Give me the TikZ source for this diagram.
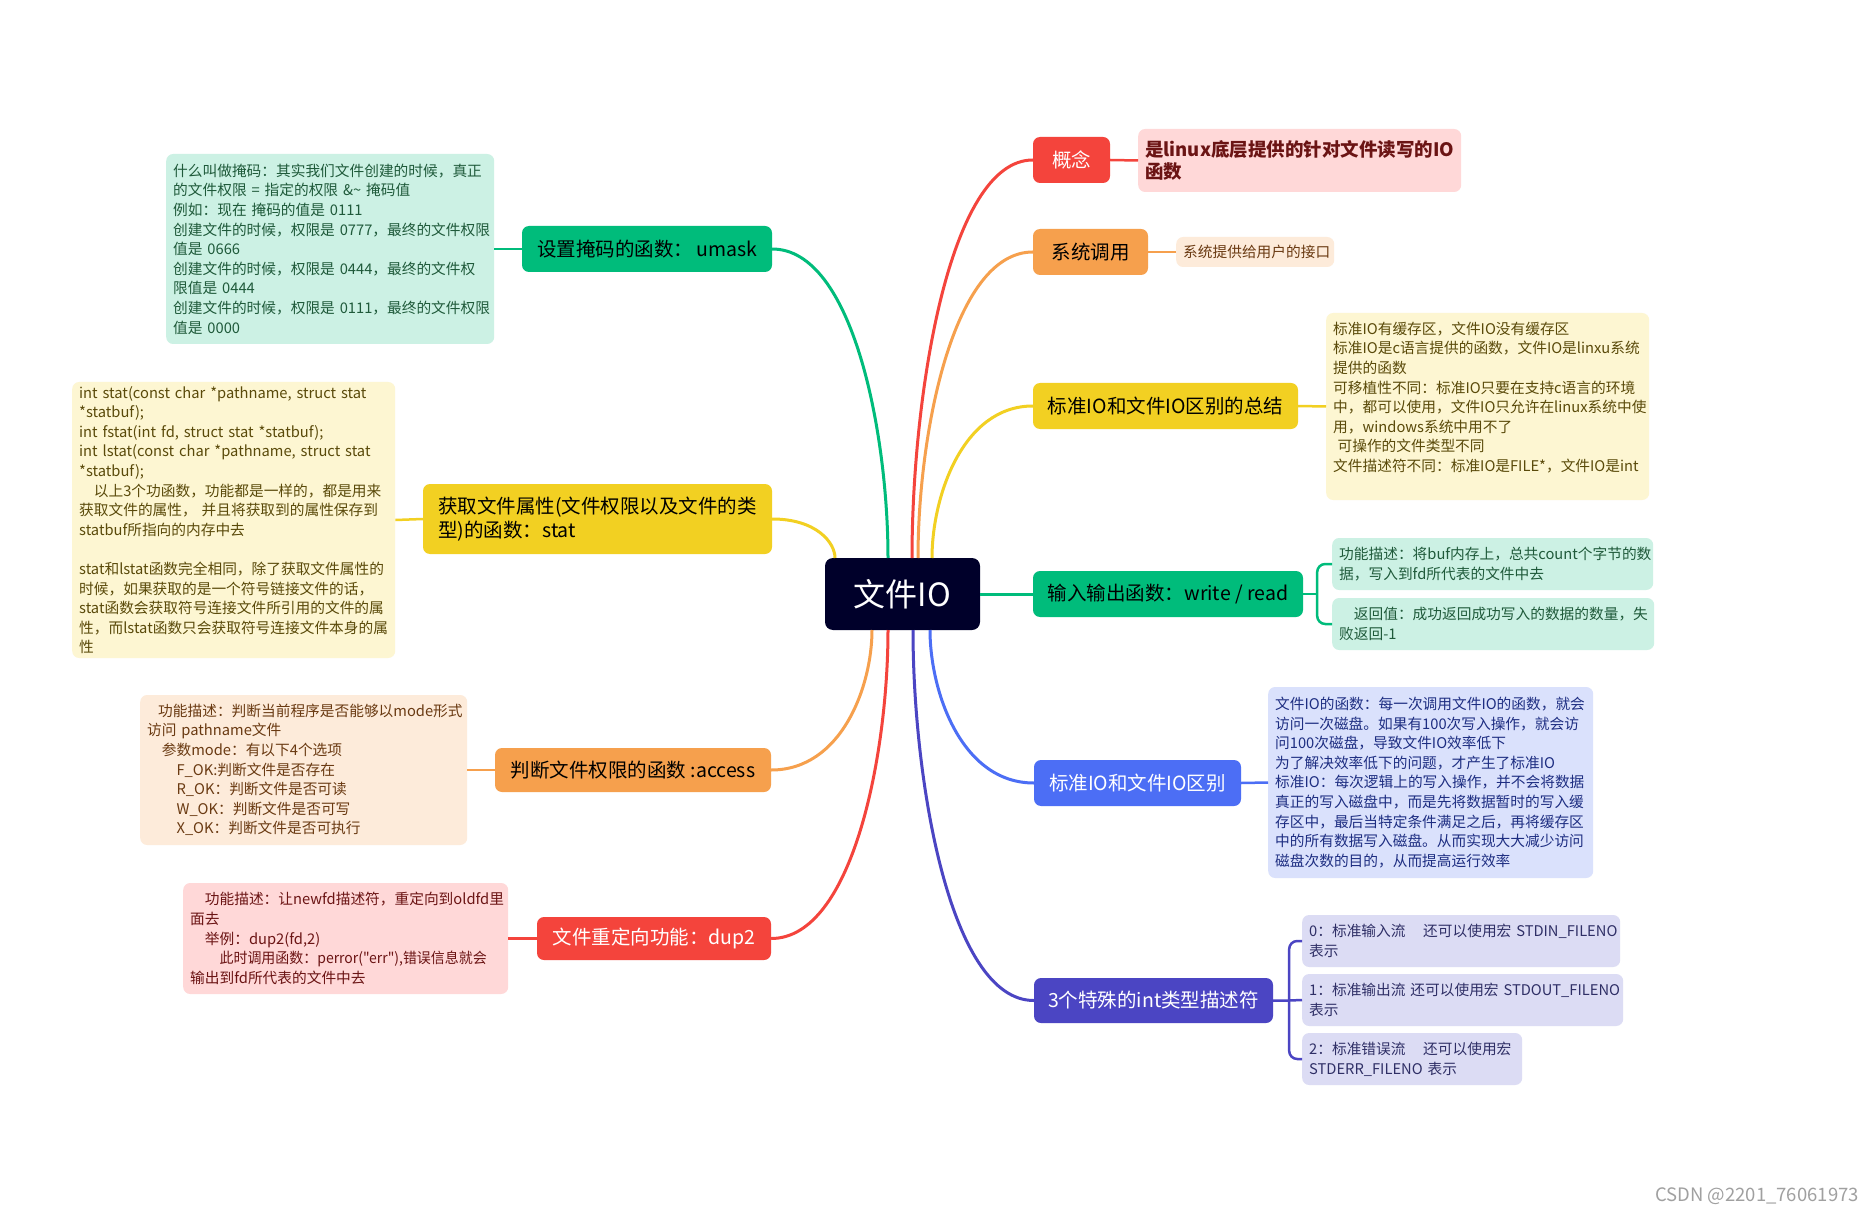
\documentclass[tikz,border=0pt]{standalone}
\usepackage{fontspec}
\setmainfont{Noto Sans CJK SC}
\usetikzlibrary{calc}
\definecolor{rootc}{HTML}{00002A}
\definecolor{cred}{HTML}{F4443C}
\definecolor{corange}{HTML}{F6A04D}
\definecolor{cyellow}{HTML}{F2D022}
\definecolor{cgreen}{HTML}{00BC7B}
\definecolor{cblue}{HTML}{4C6EF5}
\definecolor{cindigo}{HTML}{4B45C3}
\definecolor{lred}{HTML}{FFD8D8}
\definecolor{lorange}{HTML}{FDEBDA}
\definecolor{lyellow}{HTML}{FDF6D2}
\definecolor{lgreen}{HTML}{CCF1E4}
\definecolor{lblue}{HTML}{DAE1FC}
\definecolor{lindigo}{HTML}{DCDCF4}
\definecolor{tred}{HTML}{6B1414}
\definecolor{torange}{HTML}{6A3A12}
\definecolor{tyellow}{HTML}{5A4A0A}
\definecolor{tgreen}{HTML}{1F5A3A}
\definecolor{tblue}{HTML}{1E2E82}
\definecolor{tindigo}{HTML}{2F2F66}
\definecolor{wm}{HTML}{A0A0A0}
\newcommand\dsfont{\fontsize{14.7}{19.6}\selectfont}
\newcommand\brfont{\fontsize{19.5}{24}\selectfont}
\newcommand\ml[1]{\mbox{#1}}
\newcommand\mmcurve[3]{\draw[link,#1] (#2) .. controls ($(#2)!0.4!(#2 |- #3)$) and ($(#2 |- #3)!0.3!(#3)$) .. (#3);}
\begin{document}
\begin{tikzpicture}[x=1pt,y=-1pt,
  br/.style={rounded corners=7pt, minimum height=46pt, inner sep=0pt, align=center, font=\brfont},
  ds/.style={rounded corners=7pt, anchor=west, align=left, inner xsep=7pt, inner ysep=0pt, font=\dsfont},
  link/.style={line width=3pt},
  dlink/.style={line width=2.5pt}]
\useasboundingbox (0,0) rectangle (1874,1214);
\fill[white] (0,0) rectangle (1874,1214);

% root
\node[rounded corners=8pt, fill=rootc, text=white, minimum width=155pt, minimum height=72pt, inner sep=0pt, font=\fontsize{32}{36}\selectfont] (root) at (902.5,594) {文件IO};

% right branches
\node[br, fill=cred, text=white, minimum width=77pt] (bcon) at (1071.5,160) {概念};
\node[br, fill=corange, text=black, minimum width=115pt] (bsys) at (1090.5,252) {系统调用};
\node[br, fill=cyellow, text=black, minimum width=265pt] (bsum) at (1165.5,406) {标准IO和文件IO区别的总结};
\node[br, fill=cgreen, text=black, minimum width=270pt] (bio) at (1168,594) {输入输出函数：write / read};
\node[br, fill=cblue, text=white, minimum width=207pt] (bdiff) at (1137.5,783) {标准IO和文件IO区别};
\node[br, fill=cindigo, text=white, minimum width=239pt, minimum height=45pt] (bfd) at (1153.5,1000.5) {3个特殊的int类型描述符};

% left branches
\node[br, fill=cgreen, text=black, minimum width=250pt] (bumask) at (647,249) {设置掩码的函数：\,umask};
\node[br, fill=cyellow, text=black, minimum width=349pt, minimum height=70pt, align=left] (bstat) at (597.5,519) {获取文件属性(文件权限以及文件的类\\型)的函数：stat};
\node[br, fill=corange, text=black, minimum width=276pt, minimum height=44pt] (bacc) at (633,770) {判断文件权限的函数 :access};
\node[br, fill=cred, text=white, minimum width=234pt, minimum height=43pt] (bdup) at (654,938.5) {文件重定向功能：dup2};

% right descriptions
\node[ds, fill=lred, text=tred, text width=309pt, minimum height=63pt, font=\fontsize{18.5}{22}\selectfont\bfseries] (dcon) at (1138,160.5) {\ml{是linux底层提供的针对文件读写的IO}\\\ml{函数}};
\node[ds, fill=lorange, text=torange, text width=144pt, minimum height=30pt] (dsys) at (1176,252) {\ml{系统提供给用户的接口}};
\node[ds, fill=lyellow, text=tyellow, text width=309pt, minimum height=187pt] (dsum) at (1326,406.5) {\ml{标准IO有缓存区，文件IO没有缓存区}\\\ml{标准IO是c语言提供的函数，文件IO是linxu系统}\\\ml{提供的函数}\\\ml{可移植性不同：标准IO只要在支持c语言的环境}\\\ml{中，都可以使用，文件IO只允许在linux系统中使}\\\ml{用，windows系统中用不了}\\\ml{\hspace{0.3em}可操作的文件类型不同}\\\ml{文件描述符不同：标准IO是FILE*，文件IO是int}\\\ml{}};
\node[ds, fill=lgreen, text=tgreen, text width=307pt, minimum height=52pt] (dio1) at (1332,564) {\ml{功能描述：将buf内存上，总共count个字节的数}\\\ml{据，写入到fd所代表的文件中去}};
\node[ds, fill=lgreen, text=tgreen, text width=308pt, minimum height=52pt] (dio2) at (1332,624) {\ml{\hspace{1em}返回值：成功返回成功写入的数据的数量，失}\\\ml{败返回-1}};
\node[ds, fill=lblue, text=tblue, text width=311pt, minimum height=191pt] (ddiff) at (1268,782.5) {\ml{文件IO的函数：每一次调用文件IO的函数，就会}\\\ml{访问一次磁盘。如果有100次写入操作，就会访}\\\ml{问100次磁盘，导致文件IO效率低下}\\\ml{为了解决效率低下的问题，才产生了标准IO}\\\ml{标准IO：每次逻辑上的写入操作，并不会将数据}\\\ml{真正的写入磁盘中，而是先将数据暂时的写入缓}\\\ml{存区中，最后当特定条件满足之后，再将缓存区}\\\ml{中的所有数据写入磁盘。从而实现大大减少访问}\\\ml{磁盘次数的目的，从而提高运行效率}};
\node[ds, fill=lindigo, text=tindigo, text width=304pt, minimum height=52pt] (dfd0) at (1302,941) {\ml{0：标准输入流\hspace{1.2em}还可以使用宏 STDIN\_FILENO}\\\ml{表示}};
\node[ds, fill=lindigo, text=tindigo, text width=307pt, minimum height=52pt] (dfd1) at (1302,1000) {\ml{1：标准输出流 还可以使用宏 STDOUT\_FILENO}\\\ml{表示}};
\node[ds, fill=lindigo, text=tindigo, text width=206pt, minimum height=52pt] (dfd2) at (1302,1059) {\ml{2：标准错误流\hspace{1.2em}还可以使用宏}\\\ml{STDERR\_FILENO 表示}};

% left descriptions
\node[ds, fill=lgreen, text=tgreen, text width=314pt, minimum height=190pt] (dumask) at (166,249) {\ml{什么叫做掩码：其实我们文件创建的时候，真正}\\\ml{的文件权限 = 指定的权限 \&\textasciitilde{} 掩码值}\\\ml{例如：现在 掩码的值是 0111}\\\ml{创建文件的时候，权限是 0777，最终的文件权限}\\\ml{值是 0666}\\\ml{创建文件的时候，权限是 0444，最终的文件权}\\\ml{限值是 0444}\\\ml{创建文件的时候，权限是 0111，最终的文件权限}\\\ml{值是 0000}};
\node[ds, fill=lyellow, text=tyellow, text width=309pt, minimum height=276pt] (dstat) at (72,520) {\ml{int stat(const char *pathname, struct stat}\\\ml{*statbuf);}\\\ml{int fstat(int fd, struct stat *statbuf);}\\\ml{int lstat(const char *pathname, struct stat}\\\ml{*statbuf);}\\\ml{\hspace{1em}以上3个功函数，功能都是一样的，都是用来}\\\ml{获取文件的属性， 并且将获取到的属性保存到}\\\ml{statbuf所指向的内存中去}\\\ml{}\\\ml{stat和lstat函数完全相同，除了获取文件属性的}\\\ml{时候，如果获取的是一个符号链接文件的话，}\\\ml{stat函数会获取符号连接文件所引用的文件的属}\\\ml{性，而lstat函数只会获取符号连接文件本身的属}\\\ml{性}};
\node[ds, fill=lorange, text=torange, text width=313pt, minimum height=150pt] (dacc) at (140,770) {\ml{\hspace{0.75em}功能描述：判断当前程序是否能够以mode形式}\\\ml{访问 pathname文件}\\\ml{\hspace{1em}参数mode：有以下4个选项}\\\ml{\hspace{2em}F\_OK:判断文件是否存在}\\\ml{\hspace{2em}R\_OK：判断文件是否可读}\\\ml{\hspace{2em}W\_OK：判断文件是否可写}\\\ml{\hspace{2em}X\_OK：判断文件是否可执行}};
\node[ds, fill=lred, text=tred, text width=311pt, minimum height=111pt] (ddup) at (183,938.5) {\ml{\hspace{1em}功能描述：让newfd描述符，重定向到oldfd里}\\\ml{面去}\\\ml{\hspace{1em}举例：dup2(fd,2)}\\\ml{\hspace{2em}\scalebox{0.95}[1]{此时调用函数：perror({\addfontfeature{Ligatures=TeXOff}"err"}),错误信息就会}}\\\ml{输出到fd所代表的文件中去}};

% start points on the root
\coordinate (sred) at (912,558);
\coordinate (sorange) at (918,558);
\coordinate (syellow) at (932,558);
\coordinate (sblue) at (930,630);
\coordinate (sindigo) at (913,630);
\coordinate (sgreenL) at (888,558);
\coordinate (syellowL) at (835,558);
\coordinate (sorangeL) at (872,630);
\coordinate (sredL) at (888,630);

% main connectors
\mmcurve{cred}{sred}{bcon.west}
\mmcurve{corange}{sorange}{bsys.west}
\mmcurve{cyellow}{syellow}{bsum.west}
\draw[link, cgreen] (root.east) -- (bio.west);
\mmcurve{cblue}{sblue}{bdiff.west}
\mmcurve{cindigo}{sindigo}{bfd.west}
\mmcurve{cgreen}{sgreenL}{bumask.east}
\mmcurve{cyellow}{syellowL}{bstat.east}
\mmcurve{corange}{sorangeL}{bacc.east}
\mmcurve{cred}{sredL}{bdup.east}

% description connectors
\draw[dlink, cred] (bcon.east) -- (dcon.west);
\draw[dlink, corange] (bsys.east) -- (dsys.west);
\draw[dlink, cyellow] (bsum.east) -- (dsum.west);
\draw[dlink, cblue] (bdiff.east) -- (ddiff.west);
\draw[dlink, cgreen] (bumask.west) -- (dumask.east);
\draw[dlink, cyellow] (bstat.west) -- (dstat.east);
\draw[dlink, corange] (bacc.west) -- (dacc.east);
\draw[dlink, cred] (bdup.west) -- (ddup.east);

% brackets
\coordinate (ioj) at ($(bio.east)+(14,0)$);
\draw[dlink, cgreen] (bio.east) -- (ioj);
\draw[dlink, cgreen, rounded corners=8pt] (dio1.west) -| (ioj) |- (dio2.west);
\coordinate (fdj) at ($(bfd.east)+(16,0)$);
\draw[dlink, cindigo] (bfd.east) -- (fdj) -- (dfd1.west);
\draw[dlink, cindigo, rounded corners=8pt] (dfd0.west) -| (fdj) |- (dfd2.west);

% watermark
\node[anchor=east, text=wm, inner sep=0pt, font=\fontsize{18.5}{20}\selectfont] (wmark) at (1859,1196) {CSDN @2201\_76061973};
\end{tikzpicture}
\end{document}
